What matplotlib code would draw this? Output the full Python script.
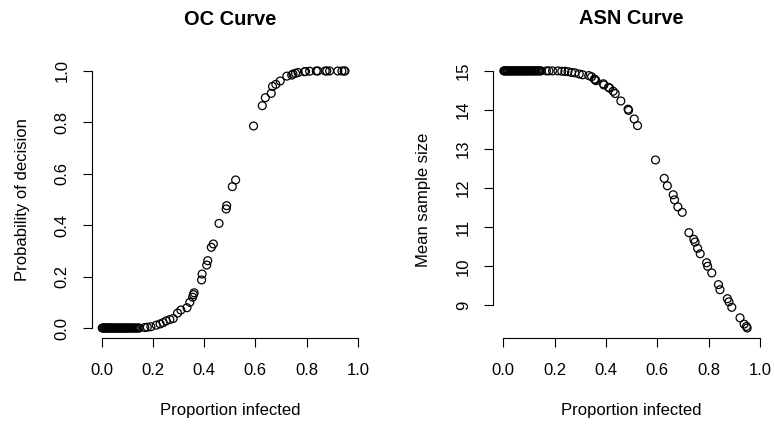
import matplotlib
matplotlib.use("Agg")
import matplotlib.pyplot as plt
import numpy as np

plt.rcParams['font.family'] = ['Liberation Sans', 'DejaVu Sans']

# proportion infected (shared by both curves)
x_low = [0.002, 0.005, 0.008, 0.011, 0.015, 0.018, 0.022, 0.026, 0.029, 0.033,
         0.037, 0.041, 0.044, 0.048, 0.052, 0.056, 0.060, 0.064, 0.068, 0.072,
         0.076, 0.080, 0.084, 0.088, 0.092, 0.096, 0.100, 0.105, 0.109, 0.113,
         0.118, 0.122, 0.127, 0.132, 0.137, 0.142, 0.147]
oc_low = [0.0] * len(x_low)
asn_low = [15.0] * len(x_low)

x_mid = [0.168, 0.178, 0.192, 0.213, 0.228, 0.240, 0.252, 0.266]
oc_mid = [0.002, 0.003, 0.005, 0.011, 0.016, 0.021, 0.028, 0.033]
asn_mid = [15.0, 15.0, 15.0, 15.0, 14.99, 14.99, 14.98, 14.96]

x_high = [0.279, 0.296, 0.309, 0.333, 0.344, 0.355, 0.358, 0.361, 0.390, 0.392,
          0.410, 0.414, 0.428, 0.436, 0.458, 0.486, 0.488, 0.510, 0.523, 0.593,
          0.627, 0.639, 0.662, 0.667, 0.680, 0.697, 0.723, 0.742, 0.747, 0.757,
          0.767, 0.792, 0.796, 0.812, 0.838, 0.844, 0.873, 0.879, 0.890, 0.922,
          0.938, 0.947, 0.950]
oc_high = [0.037, 0.058, 0.070, 0.079, 0.100, 0.120, 0.130, 0.137, 0.187, 0.210,
           0.245, 0.262, 0.314, 0.327, 0.407, 0.463, 0.476, 0.550, 0.576, 0.786,
           0.865, 0.896, 0.913, 0.940, 0.948, 0.961, 0.980, 0.984, 0.988, 0.991,
           0.994, 0.997, 0.998, 0.999, 1.0, 1.0, 1.0, 1.0, 1.0, 1.0,
           1.0, 1.0, 1.0]
asn_high = [14.95, 14.92, 14.90, 14.88, 14.85, 14.79, 14.77, 14.75, 14.67, 14.64,
            14.58, 14.56, 14.48, 14.42, 14.23, 14.02, 13.99, 13.77, 13.60, 12.72,
            12.25, 12.06, 11.83, 11.70, 11.52, 11.38, 10.86, 10.69, 10.62, 10.46,
            10.32, 10.09, 10.00, 9.83, 9.53, 9.40, 9.17, 9.09, 8.95, 8.68,
            8.52, 8.46, 8.42]

prop = np.array(x_low + x_mid + x_high)
oc = np.array(oc_low + oc_mid + oc_high)
asn = np.array(asn_low + asn_mid + asn_high)

W, H = 774, 424
fig = plt.figure(figsize=(W / 100, H / 100), dpi=100)

def px_ax(l, r, t, b):
    return fig.add_axes([l / W, 1 - b / H, (r - l) / W, (b - t) / H])

def r_style(ax, xticks, yticks, xfmt, yfmt):
    for s in ['top', 'right']:
        ax.spines[s].set_visible(False)
    ax.spines['left'].set_bounds(yticks[0], yticks[-1])
    ax.spines['bottom'].set_bounds(xticks[0], xticks[-1])
    for s in ['left', 'bottom']:
        ax.spines[s].set_linewidth(0.8)
    ax.set_xticks(xticks)
    ax.set_xticklabels([xfmt(v) for v in xticks])
    ax.set_yticks(yticks)
    ax.set_yticklabels([yfmt(v) for v in yticks], rotation=90, va='center')
    ax.tick_params(axis='both', length=6.7, width=0.8, labelsize=12)
    ax.tick_params(axis='x', pad=11)
    ax.tick_params(axis='y', pad=9)

def rlim(lo, hi):
    d = (hi - lo) * 0.04
    return lo - d, hi + d

# OC curve
ax1 = px_ax(91.5, 368, 60.7, 338.3)
ax1.scatter(prop, oc, s=32, facecolors='none', edgecolors='black', linewidths=0.9)
ax1.set_xlim(*rlim(0, 1))
ax1.set_ylim(*rlim(0, 1))
ticks = [0.0, 0.2, 0.4, 0.6, 0.8, 1.0]
r_style(ax1, ticks, ticks, lambda v: f"{v:.1f}", lambda v: f"{v:.1f}")
ax1.set_title("OC Curve", fontsize=14.4, fontweight='bold', pad=26)
ax1.set_xlabel("Proportion infected", fontsize=12, labelpad=18)
ax1.set_ylabel("Probability of decision", fontsize=12, labelpad=18)

# ASN curve
ax2 = px_ax(493, 770.3, 60.6, 338.3)
ax2.scatter(prop, asn, s=32, facecolors='none', edgecolors='black', linewidths=0.9)
ax2.set_xlim(*rlim(0, 1))
ax2.set_ylim(*rlim(asn.min(), asn.max()))
r_style(ax2, ticks, [9, 10, 11, 12, 13, 14, 15], lambda v: f"{v:.1f}", lambda v: f"{v:d}")
ax2.set_title("ASN Curve", fontsize=14.4, fontweight='bold', pad=26)
ax2.set_xlabel("Proportion infected", fontsize=12, labelpad=18)
ax2.set_ylabel("Mean sample size", fontsize=12, labelpad=18)

fig.savefig("out.png", dpi=100)
